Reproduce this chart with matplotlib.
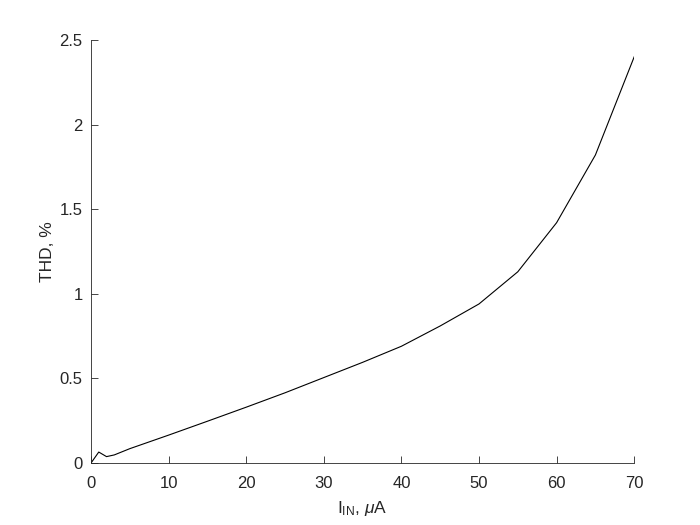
import numpy as np
import matplotlib.pyplot as plt

plt.rcParams['font.family'] = ['Liberation Sans', 'DejaVu Sans']
plt.rcParams['mathtext.fontset'] = 'custom'
plt.rcParams['mathtext.rm'] = 'Liberation Sans'
plt.rcParams['mathtext.it'] = 'Liberation Sans:italic'

# входной ток, мкА и THD, %
i_in = [0, 1, 2, 3, 5, 10, 15, 20, 25, 30, 35, 40, 45, 50, 55, 60, 65, 70]
thd = [0, 0.065, 0.038, 0.048, 0.085, 0.165, 0.247, 0.33, 0.415, 0.505, 0.595,
       0.69, 0.81, 0.94, 1.13, 1.42, 1.82, 2.40]

x_ticks = [0, 10, 20, 30, 40, 50, 60, 70]
y_ticks = [0, 0.5, 1, 1.5, 2, 2.5]
y_labels = ['0', '0.5', '1', '1.5', '2', '2.5']

fig = plt.figure(figsize=(7, 5.25), dpi=100)
ax = fig.add_axes([0.13, 0.118, 0.776, 0.806])
ax.plot(i_in, thd, color='black', lw=0.8)

ax.set_xlim(0, 70)
ax.set_ylim(0, 2.5)
ax.set_xticks(x_ticks)
ax.set_yticks(y_ticks)
ax.set_yticklabels(y_labels)
ax.spines['top'].set_visible(False)
ax.spines['right'].set_visible(False)
for s in ['left', 'bottom']:
    ax.spines[s].set_linewidth(0.6)
    ax.spines[s].set_color('#262626')
ax.tick_params(direction='in', length=5, width=0.6, labelsize=12,
               colors='#262626')
ax.tick_params(axis='x', pad=9)
ax.tick_params(axis='y', pad=6)

ax.set_xlabel(r'I$_{\mathregular{IN}}$, $\mu$A', fontsize=12.5, color='#262626',
              labelpad=6)
ax.set_ylabel('THD, %', fontsize=12.5, color='#262626', labelpad=3.5)

fig.savefig('out.png', dpi=100)
